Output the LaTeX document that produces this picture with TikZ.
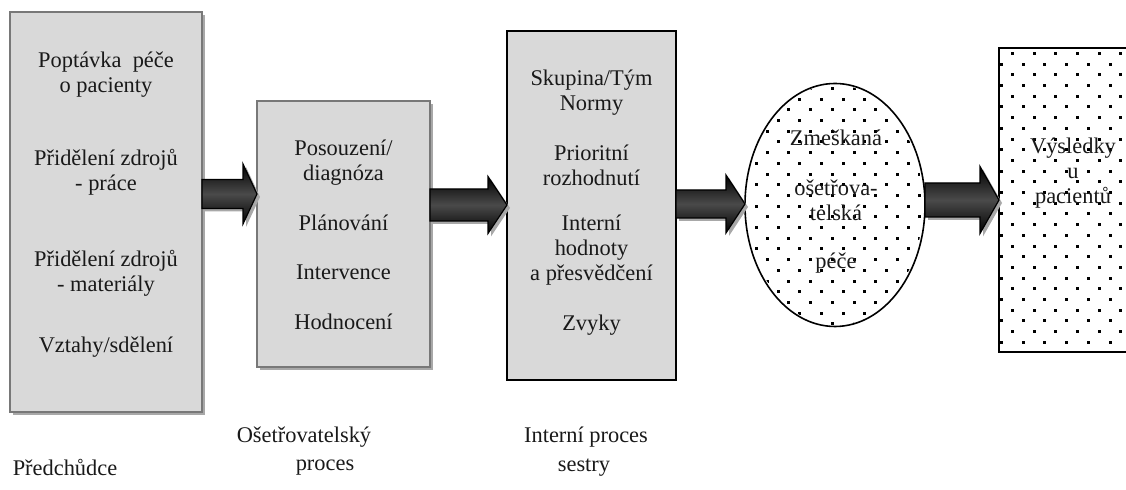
\documentclass[tikz,border=0pt]{standalone}
\usepackage{fontspec}
\setmainfont{Liberation Serif}
\usetikzlibrary{calc,shapes.geometric,shadows}
\definecolor{boxfill}{HTML}{D9D9D9}
\definecolor{boxline}{HTML}{787878}
\definecolor{shadowc}{HTML}{A8A8A8}
\definecolor{arrowmid}{HTML}{4A4A4A}

\newcommand\blockarrow[5]{% #1 start, #2 tip, #3 shaft half height, #4 head half height, #5 head length
  \fill[shadowc] ($(#1)+(3,3-#3)$) -- ($(#2)+(3-#5,3-#3)$) -- ($(#2)+(3-#5,3-#4)$) -- ($(#2)+(3,3)$)
     -- ($(#2)+(3-#5,3+#4)$) -- ($(#2)+(3-#5,3+#3)$) -- ($(#1)+(3,3+#3)$) -- cycle;
  \draw[arrowbody] ($(#1)+(0,-#3)$) -- ($(#2)+(-#5,-#3)$) -- ($(#2)+(-#5,-#4)$) -- (#2)
     -- ($(#2)+(-#5,#4)$) -- ($(#2)+(-#5,#3)$) -- ($(#1)+(0,#3)$) -- cycle;
}

\begin{document}
\begin{tikzpicture}[x=0.5pt,y=-0.5pt,
  every node/.style={inner sep=0pt, outer sep=0pt},
  lbl/.style={font=\fontsize{11.2}{12.5}\selectfont, align=center, text=black!90},
  greybox/.style={draw=boxline, line width=1pt, fill=boxfill, anchor=north west,
    drop shadow={shadow xshift=1.6pt, shadow yshift=-1.6pt, fill=shadowc, opacity=1}},
  blackbox/.style={draw=black, line width=0.8pt, fill=boxfill, anchor=north west},
  arrowbody/.style={draw=black, line width=0.6pt, top color=black, bottom color=black, middle color=arrowmid},
  dotbox/.style={draw=black, line width=1pt, fill=white, anchor=north west},
  dotellipse/.style={ellipse, draw=black, line width=0.8pt, fill=white}]
\useasboundingbox (0,0) rectangle (1126,490);

% boxes
\node[greybox, minimum width=96pt, minimum height=200pt] (b1) at (10,12) {};
\node[greybox, minimum width=86.5pt, minimum height=133pt] (b2) at (257,101) {};
\node[blackbox, minimum width=84.5pt, minimum height=174.5pt] (b3) at (507,31) {};
\node[dotellipse, minimum width=90pt, minimum height=121.5pt] (el) at (835,205) {};
\node[dotbox, minimum width=72pt, minimum height=152pt] (b5) at (999,48) {};

% dots in ellipse
\begin{scope}
  \clip (el.center) ellipse [x radius=44pt, y radius=60pt];
  \foreach \r in {0,...,24}{
    \foreach \c in {0,...,9}{
      \pgfmathsetmacro\dx{744+\c*21.7+mod(\r,2)*10.85}
      \pgfmathsetmacro\dy{87+\r*10.7}
      \fill (\dx,\dy) rectangle ++(3,3);
    }
  }
\end{scope}
% dots in box 5
\begin{scope}
  \clip ($(b5.north west)+(1,1)$) rectangle ($(b5.south east)+(-1,-1)$);
  \foreach \r in {0,...,28}{
    \foreach \c in {0,...,7}{
      \pgfmathsetmacro\dx{1000+\c*21.7+mod(\r+1,2)*10.85}
      \pgfmathsetmacro\dy{52+\r*10.7}
      \fill (\dx,\dy) rectangle ++(3,3);
    }
  }
\end{scope}

% arrows
\coordinate (a1s) at (b1.east |- 0,194);
\coordinate (a1t) at (b2.west |- a1s);
\coordinate (a2s) at (b2.east |- 0,205);
\coordinate (a2t) at (b3.west |- a2s);
\coordinate (a3s) at (b3.east |- 0,204);
\coordinate (a3t) at (el.west |- a3s);
\coordinate (a4s) at (el.east |- 0,200);
\coordinate (a4t) at (b5.west |- a4s);
\blockarrow{a1s}{a1t}{14.5}{30}{14}
\blockarrow{a2s}{a2t}{16}{28.5}{19}
\blockarrow{a3s}{a3t}{14}{29}{19}
\blockarrow{a4s}{a4t}{17}{33.5}{19}

% texts box 1
\node[lbl] (t1a) at (106,74.5) {Poptávka\ \ péče\\o pacienty};
\node[lbl] (t1b) at (106,172.5) {Přidělení zdrojů\\- práce};
\node[lbl] (t1c) at (106,273.5) {Přidělení zdrojů\\- materiály};
\node[lbl] (t1d) at (106,347) {Vztahy/sdělení};
% texts box 2
\node[lbl] (t2a) at (343.5,162.5) {Posouzení/\\diagnóza};
\node[lbl] (t2b) at (343.5,223) {Plánování};
\node[lbl] (t2c) at (343.5,272) {Intervence};
\node[lbl] (t2d) at (343.5,322) {Hodnocení};
% texts box 3
\node[lbl] (t3a) at (591.5,92.5) {Skupina/Tým\\Normy};
\node[lbl] (t3b) at (591.5,165.5) {Prioritní\\rozhodnutí};
\node[lbl] (t3c) at (591.5,250) {Interní\\hodnoty\\a přesvědčení};
\node[lbl] (t3d) at (591.5,325) {Zvyky};
% ellipse texts
\node[lbl] (e1) at (836,138) {Zmeškaná};
\node[lbl] (e2) at (836,200) {ošetřova-\\telská};
\node[lbl] (e3) at (836,263) {péče};
% box 5 text
\node[lbl] (t5) at (1073,173) {Výsledky\\u\\pacientů};

% bottom labels
\node[lbl] (l1) at (65,468) {Předchůdce};
\node[lbl] (l2a) at (304,437) {Ošetřovatelský};
\node[lbl] (l2b) at (325,468) {proces};
\node[lbl] (l3a) at (586,437) {Interní proces};
\node[lbl] (l3b) at (584,468) {sestry};
\end{tikzpicture}
\end{document}
